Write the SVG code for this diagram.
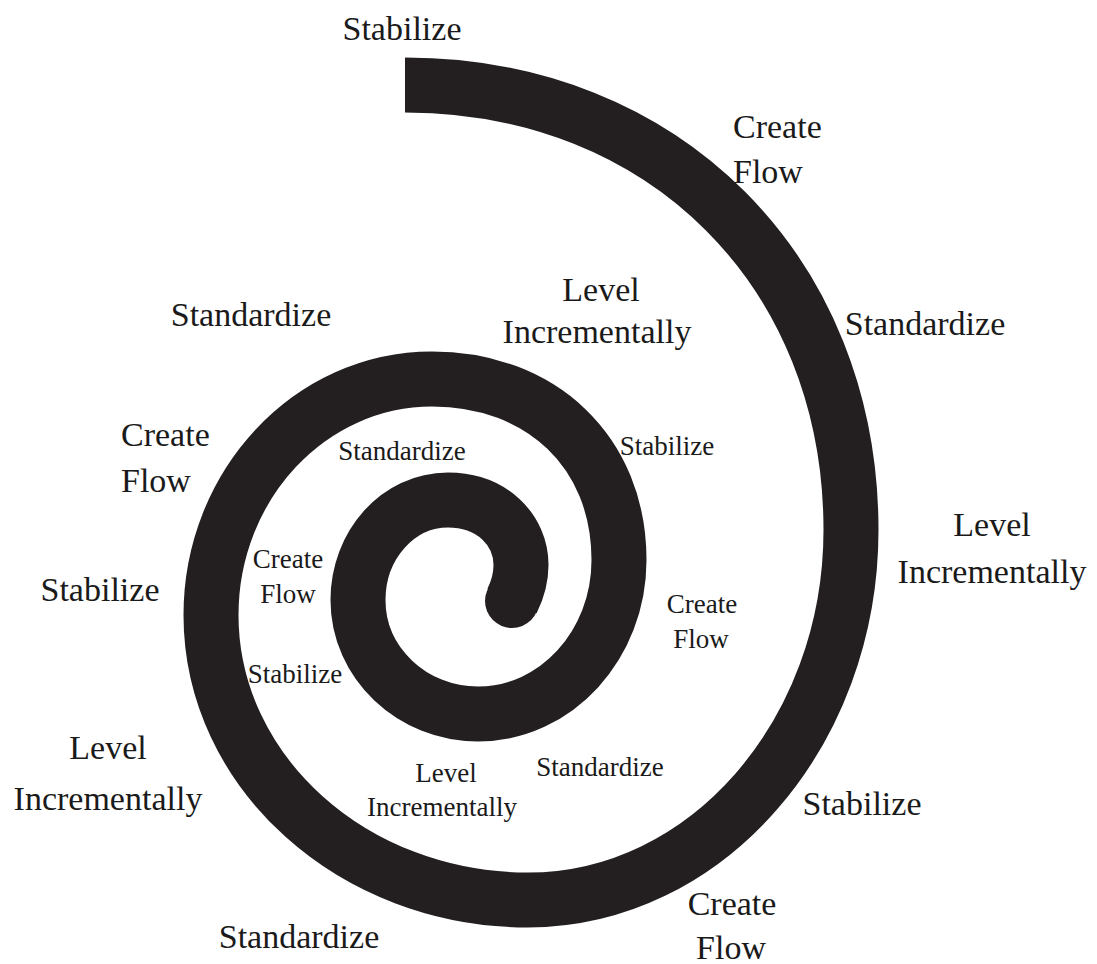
<svg xmlns="http://www.w3.org/2000/svg" width="1097" height="964" viewBox="0 0 1097 964">
<style>
  .band { fill: none; stroke: #231f20; stroke-width: 55; stroke-linecap: butt; stroke-linejoin: round; }
  .cap { fill: #231f20; }
  text { font-family: "Liberation Serif", "Times New Roman", serif; fill: #1a1a1a; text-anchor: middle; }
  .lg { font-size: 34px; }
  .sm { font-size: 27px; }
  .st { text-anchor: start; }
</style>
<rect width="1097" height="964" fill="#ffffff"/>
<g id="spiral">
  <path class="band" d="M 405 85 C 664 85 851 272 851 530 C 851 734 706 900 528 900 C 353 900 211 772 211 615 C 211 485 310 379 432 379 C 541 379 619 452 619 560 C 619 645 556 714 478 714 C 412 714 358 663 358 600 C 358 545 398 500 448 500 C 492 500 521 530 521 565 C 521 580 517 591 512 601"/>
  <circle class="cap" cx="512" cy="601" r="27"/>
</g>
<g id="outer-stabilize-top"><text class="lg" x="402" y="40">Stabilize</text></g>
<g id="outer-createflow-topright"><text class="lg st" x="733" y="138">Create</text><text class="lg st" x="733" y="183">Flow</text></g>
<g id="outer-level-top"><text class="lg" x="601" y="301">Level</text><text class="lg" x="597" y="343">Incrementally</text></g>
<g id="outer-standardize-upperleft"><text class="lg" x="251" y="326">Standardize</text></g>
<g id="outer-standardize-right"><text class="lg" x="925" y="335">Standardize</text></g>
<g id="outer-createflow-left"><text class="lg st" x="121" y="446">Create</text><text class="lg st" x="121" y="492">Flow</text></g>
<g id="outer-stabilize-left"><text class="lg" x="100" y="601">Stabilize</text></g>
<g id="outer-level-right"><text class="lg" x="992" y="536">Level</text><text class="lg" x="992" y="583">Incrementally</text></g>
<g id="outer-level-left"><text class="lg" x="108" y="759">Level</text><text class="lg" x="108" y="810">Incrementally</text></g>
<g id="outer-stabilize-bottomright"><text class="lg" x="862" y="815">Stabilize</text></g>
<g id="outer-createflow-bottom"><text class="lg" x="732" y="915">Create</text><text class="lg" x="731" y="959">Flow</text></g>
<g id="outer-standardize-bottom"><text class="lg" x="299" y="948">Standardize</text></g>
<g id="inner-standardize-top"><text class="sm" x="402" y="460">Standardize</text></g>
<g id="inner-stabilize-right"><text class="sm" x="667" y="455">Stabilize</text></g>
<g id="inner-createflow-left"><text class="sm" x="288" y="568">Create</text><text class="sm" x="288" y="603">Flow</text></g>
<g id="inner-stabilize-left"><text class="sm" x="295" y="683">Stabilize</text></g>
<g id="inner-createflow-right"><text class="sm" x="702" y="613">Create</text><text class="sm" x="701" y="648">Flow</text></g>
<g id="inner-level-bottom"><text class="sm" x="446" y="782">Level</text><text class="sm" x="442" y="816">Incrementally</text></g>
<g id="inner-standardize-bottom"><text class="sm" x="600" y="776">Standardize</text></g>
</svg>
